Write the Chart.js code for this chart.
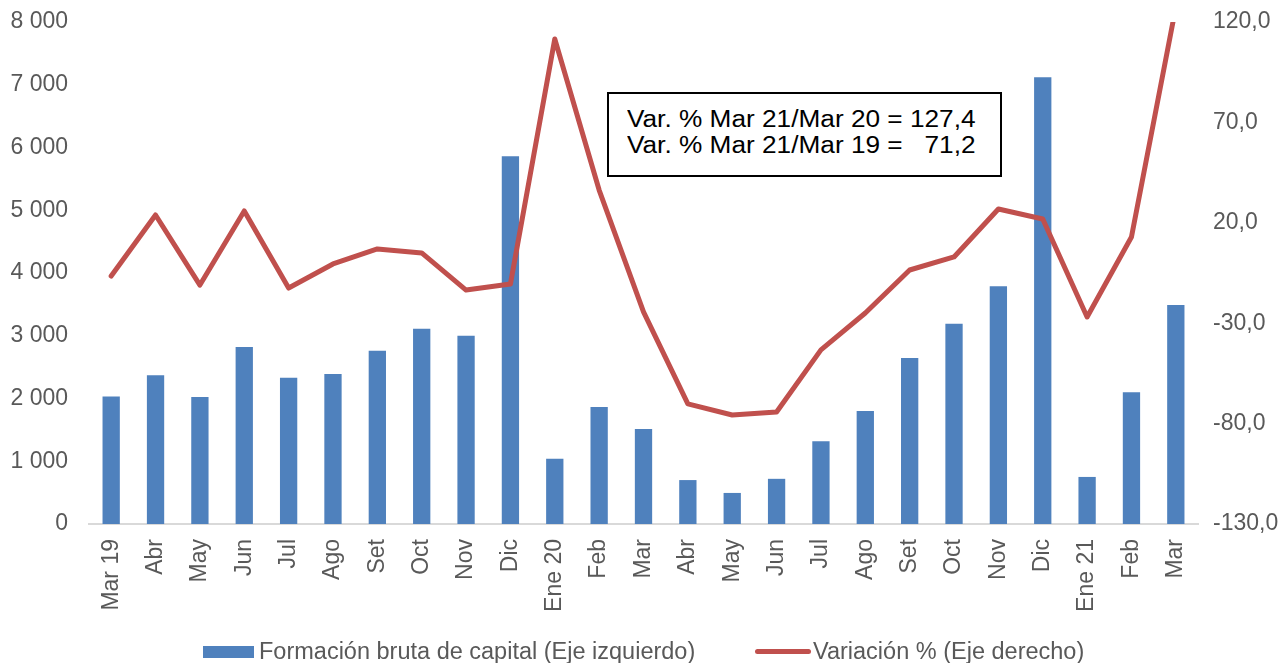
<!DOCTYPE html>
<html>
<head>
<meta charset="utf-8">
<script src="https://cdn.jsdelivr.net/npm/chart.js@4.4.1/dist/chart.umd.min.js"></script>
<style>
  html, body { margin: 0; padding: 0; background: #fff; }
  #wrap { position: relative; width: 1282px; height: 663px; overflow: hidden; }
  #box { position: absolute; left: 607px; top: 92px; width: 395px; height: 85px; border: 2px solid #000;
         box-sizing: border-box; background: #fff; }
  #box span { position: absolute; left: 18px; display: block; white-space: pre;
         font-family: "Liberation Sans", Arial, sans-serif; font-size: 23px; color: #000; line-height: 26px;
         transform: scaleX(1.14); transform-origin: 0 0; }
  .leg { position: absolute; font-family: "Liberation Sans", Arial, sans-serif; font-size: 23.5px; color: #595959;
         white-space: nowrap; line-height: 26px; }
  .sw { position: absolute; }
</style>
</head>
<body>
<div id="wrap">
<canvas id="c" width="1282" height="663"></canvas>
<div id="box"><span id="b1" style="top:12px"></span><span id="b2" style="top:38px"></span></div>
<div class="sw" id="sw0" style="left:203px; top:646px; width:51px; height:12px; background:#4F81BD"></div>
<div class="leg" id="lg0" style="left:259px; top:638px"></div>
<div class="sw" id="sw1" style="left:755px; top:649px; width:56px; height:5px; border-radius:2.5px; background:#C0504D"></div>
<div class="leg" id="lg1" style="left:813px; top:638px"></div>
</div>
<script>
const categories = ["Mar 19","Abr","May","Jun","Jul","Ago","Set","Oct","Nov","Dic",
  "Ene 20","Feb","Mar","Abr","May","Jun","Jul","Ago","Set","Oct","Nov","Dic",
  "Ene 21","Feb","Mar"];
const formacionBruta = [2030,2370,2025,2820,2330,2390,2760,3110,3000,5860,
  1040,1865,1515,700,495,720,1320,1800,2645,3190,3790,7120,
  750,2100,3490];
const variacionPct = [-6.5,23.9,-11.0,25.9,-12.5,-0.5,7.0,5.0,-13.5,-10.5,
  111.5,36.3,-24.4,-70.2,-75.7,-74.2,-43.3,-24.9,-3.5,3.0,26.9,21.9,
  -26.9,12.9,127.4];
const leftTicks = [0,1000,2000,3000,4000,5000,6000,7000,8000];
const rightTicks = [-130,-80,-30,20,70,120];
const legendLabels = ["Formación bruta de capital (Eje izquierdo)", "Variación % (Eje derecho)"];
const boxLines = ["Var. % Mar 21/Mar 20 = 127,4", "Var. % Mar 21/Mar 19 =   71,2"];

document.getElementById("lg0").textContent = legendLabels[0];
document.getElementById("lg1").textContent = legendLabels[1];
document.getElementById("b1").textContent = boxLines[0];
document.getElementById("b2").textContent = boxLines[1];

const FONT = "'Liberation Sans', Arial, sans-serif";
const GREY = "#595959";
const BLUE = "#4F81BD";
const RED = "#C0504D";

function fmtThousands(v) {
  const s = Math.round(v).toString();
  return s.replace(/\B(?=(\d{3})+(?!\d))/g, " ");
}

new Chart(document.getElementById("c"), {
  data: {
    labels: categories,
    datasets: [
      { type: "line", label: legendLabels[1], data: variacionPct, yAxisID: "y1",
        borderColor: RED, backgroundColor: RED, borderWidth: 5, pointRadius: 0,
        tension: 0, order: 0, borderJoinStyle: "round", borderCapStyle: "round" },
      { type: "bar", label: legendLabels[0], data: formacionBruta, yAxisID: "y",
        backgroundColor: BLUE, borderWidth: 0, barPercentage: 0.39, categoryPercentage: 1, order: 1 }
    ]
  },
  options: {
    responsive: false,
    animation: false,
    layout: { padding: { top: 22, left: 0, right: 0, bottom: 0 } },
    plugins: {
      tooltip: { enabled: false },
      legend: { display: false }
    },
    scales: {
      x: {
        grid: { display: false, drawTicks: false },
        border: { display: true, color: "#D9D9D9", width: 2 },
        ticks: { font: { family: FONT, size: 23 }, color: GREY, maxRotation: 90, minRotation: 90, padding: 15, autoSkip: false },
        afterFit: (s) => { s.height = 139; s.paddingLeft = 0; s.paddingRight = 0; }
      },
      y: {
        position: "left", min: 0, max: 8000,
        grid: { display: false, drawTicks: false },
        border: { display: false },
        afterBuildTicks: (s) => { s.ticks = leftTicks.map(v => ({ value: v })); },
        ticks: { font: { family: FONT, size: 23 }, color: GREY, padding: 21, callback: (v) => fmtThousands(v) },
        afterFit: (s) => { s.width = 89; s.paddingTop = 0; s.paddingBottom = 0; }
      },
      y1: {
        position: "right", min: -130, max: 120,
        grid: { display: false, drawTicks: false },
        border: { display: false },
        afterBuildTicks: (s) => { s.ticks = rightTicks.map(v => ({ value: v })); },
        ticks: { font: { family: FONT, size: 23 }, color: GREY, padding: 15, callback: (v) => v.toFixed(1).replace(".", ",") },
        afterFit: (s) => { s.width = 84; s.paddingTop = 0; s.paddingBottom = 0; }
      }
    }
  }
});
</script>
</body>
</html>
